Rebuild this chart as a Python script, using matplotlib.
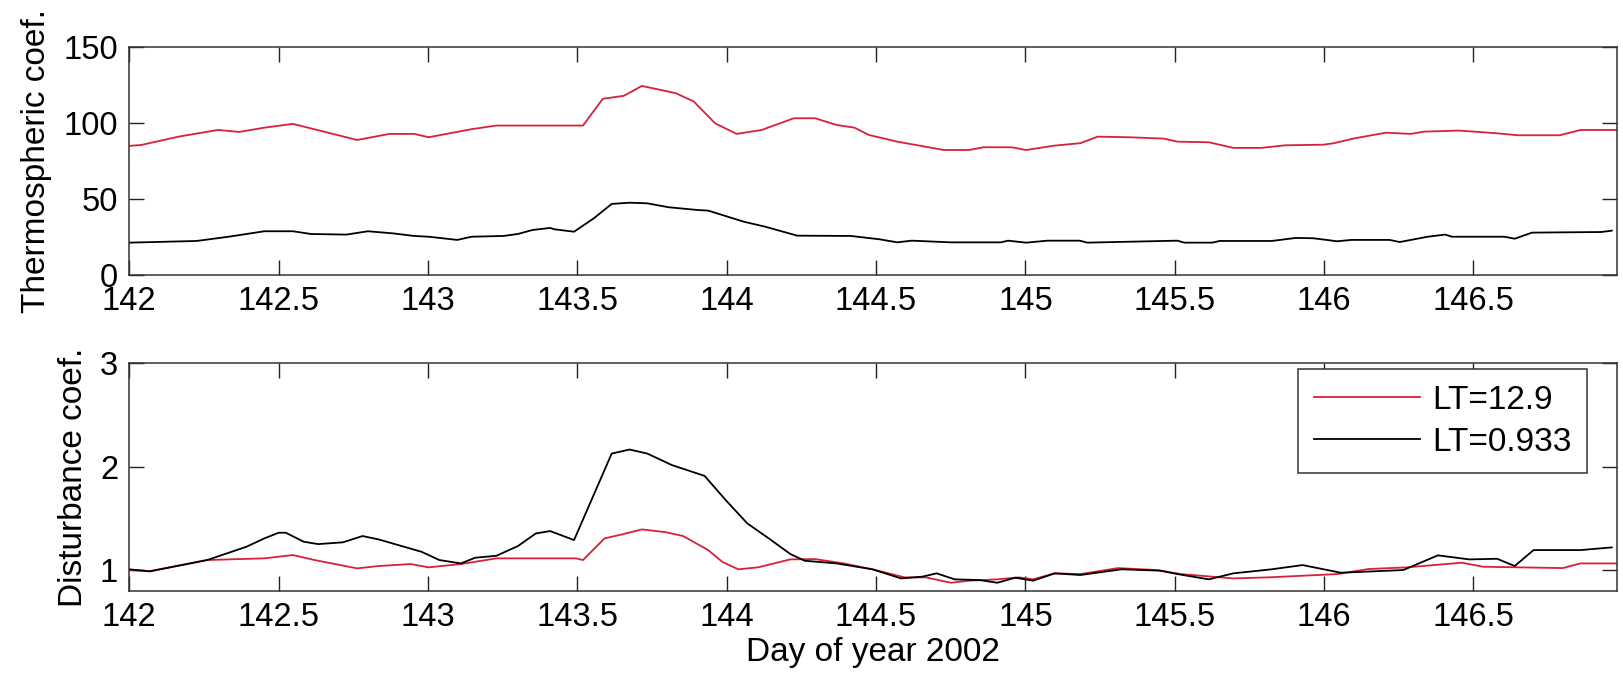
import matplotlib
matplotlib.use("Agg")
from matplotlib import pyplot as plt

plt.rcParams['font.family'] = ['Liberation Sans', 'DejaVu Sans']

# thermospheric coefficient, LT=12.9 (red)
thermo_red_day = [142.0, 142.04, 142.165, 142.297, 142.368, 142.452, 142.548, 142.763, 142.871, 142.954,
                  143.002, 143.146, 143.229, 143.519, 143.585, 143.656, 143.716, 143.830, 143.890,
                  143.961, 144.033, 144.117, 144.225, 144.296, 144.368, 144.428, 144.476, 144.571,
                  144.727, 144.811, 144.859, 144.954, 145.002, 145.098, 145.184, 145.242, 145.347,
                  145.463, 145.509, 145.614, 145.696, 145.789, 145.870, 145.998, 146.033, 146.102,
                  146.207, 146.289, 146.335, 146.451, 146.579, 146.649, 146.789, 146.858, 146.98]
thermo_red = [85.0, 85.6, 91.1, 95.5, 94.2, 97.0, 99.5, 88.9, 92.9, 92.9,
              90.7, 96.0, 98.4, 98.4, 116.0, 118.0, 124.5, 119.7, 114.2,
              99.9, 92.9, 95.5, 103.2, 103.2, 98.8, 97.0, 92.2, 87.8,
              82.3, 82.3, 84.1, 84.1, 82.3, 85.2, 86.8, 91.1, 90.7,
              89.8, 87.8, 87.4, 83.7, 83.7, 85.4, 85.8, 86.8, 90.0,
              93.7, 92.9, 94.4, 95.1, 93.3, 92.0, 92.0, 95.5, 95.5]

# thermospheric coefficient, LT=0.933 (black)
thermo_blk_day = [142.0, 142.225, 142.333, 142.452, 142.548, 142.608, 142.727, 142.799, 142.883, 142.954,
                  143.002, 143.098, 143.146, 143.253, 143.301, 143.349, 143.409, 143.423, 143.489,
                  143.555, 143.615, 143.675, 143.734, 143.806, 143.902, 143.938, 144.057, 144.129,
                  144.236, 144.416, 144.512, 144.571, 144.619, 144.751, 144.918, 144.942, 145.002,
                  145.074, 145.182, 145.207, 145.509, 145.532, 145.626, 145.650, 145.824, 145.905,
                  145.963, 146.044, 146.091, 146.219, 146.253, 146.347, 146.405, 146.428, 146.603,
                  146.638, 146.696, 146.928, 146.963]
thermo_blk = [21.3, 22.4, 25.2, 28.8, 28.8, 27.0, 26.6, 28.8, 27.4, 25.7,
              25.2, 23.1, 25.2, 25.7, 27.0, 29.6, 31.0, 30.1, 28.5,
              37.3, 46.8, 47.6, 47.2, 44.6, 42.8, 42.4, 35.1, 31.8,
              25.9, 25.7, 23.5, 21.5, 22.6, 21.5, 21.5, 22.6, 21.3,
              22.6, 22.6, 21.3, 22.6, 21.3, 21.3, 22.4, 22.4, 24.4,
              24.2, 22.2, 23.1, 23.1, 21.7, 25.2, 26.6, 25.2, 25.2,
              23.9, 27.9, 28.3, 29.2]

# disturbance coefficient, LT=12.9 (red)
dist_red_day = [142.0, 142.069, 142.261, 142.452, 142.548, 142.620, 142.763, 142.835, 142.942, 143.002,
                143.110, 143.229, 143.495, 143.519, 143.591, 143.650, 143.716, 143.794, 143.854,
                143.938, 143.985, 144.039, 144.105, 144.213, 144.296, 144.392, 144.488, 144.596,
                144.667, 144.751, 144.811, 144.906, 144.978, 145.026, 145.098, 145.184, 145.310,
                145.440, 145.521, 145.696, 145.812, 146.044, 146.149, 146.277, 146.462, 146.532,
                146.799, 146.858, 146.98]
dist_red = [1.0, 0.99, 1.097, 1.113, 1.145, 1.097, 1.016, 1.039, 1.058, 1.026,
            1.058, 1.113, 1.113, 1.097, 1.306, 1.345, 1.393, 1.367, 1.329,
            1.193, 1.080, 1.007, 1.026, 1.103, 1.106, 1.064, 1.007, 0.929,
            0.929, 0.877, 0.897, 0.910, 0.929, 0.910, 0.968, 0.961, 1.019,
            1.0, 0.961, 0.919, 0.929, 0.961, 1.010, 1.026, 1.071, 1.032,
            1.019, 1.064, 1.064]

# disturbance coefficient, LT=0.933 (black)
dist_blk_day = [142.0, 142.069, 142.261, 142.392, 142.452, 142.500, 142.524, 142.584, 142.632, 142.715,
                142.781, 142.835, 142.978, 143.038, 143.110, 143.158, 143.229, 143.301, 143.361,
                143.409, 143.489, 143.615, 143.675, 143.734, 143.818, 143.926, 143.997, 144.069,
                144.141, 144.213, 144.261, 144.368, 144.488, 144.584, 144.655, 144.703, 144.763,
                144.847, 144.906, 144.966, 145.026, 145.098, 145.184, 145.322, 145.451, 145.509,
                145.614, 145.696, 145.824, 145.928, 146.056, 146.265, 146.381, 146.486, 146.579,
                146.638, 146.701, 146.858, 146.963]
dist_blk = [1.007, 0.987, 1.097, 1.225, 1.306, 1.361, 1.361, 1.274, 1.251, 1.268,
            1.329, 1.296, 1.177, 1.097, 1.064, 1.119, 1.138, 1.232, 1.354,
            1.377, 1.290, 2.127, 2.166, 2.127, 2.014, 1.911, 1.676, 1.451,
            1.306, 1.155, 1.090, 1.064, 1.007, 0.919, 0.936, 0.968, 0.910,
            0.903, 0.877, 0.926, 0.897, 0.968, 0.952, 1.007, 0.994, 0.961,
            0.910, 0.968, 1.007, 1.048, 0.974, 1.0, 1.142, 1.103, 1.109,
            1.039, 1.193, 1.193, 1.219]

xticks = [142, 142.5, 143, 143.5, 144, 144.5, 145, 145.5, 146, 146.5]
xticklabels = ['142', '142.5', '143', '143.5', '144', '144.5', '145', '145.5', '146', '146.5']
legend_labels = ['LT=12.9', 'LT=0.933']

red = '#d8203a'
fs = 24

fig = plt.figure(figsize=(16.24, 6.8), dpi=100)
ax1 = fig.add_axes([0.0796, 0.5956, 0.916, 0.335])
ax2 = fig.add_axes([0.0796, 0.1313, 0.916, 0.3344])

# common MATLAB-like styling
def style(ax):
    ax.set_xlim(142, 146.98)
    ax.set_xticks(xticks)
    ax.set_xticklabels(xticklabels)
    ax.tick_params(direction='in', length=11, width=1, top=True, right=True,
                   labelsize=23.5, pad=8, colors='#222222', labelcolor='black')
    for s in ax.spines.values():
        s.set_color('#333333')
        s.set_linewidth(1.1)

ax1.plot(thermo_red_day, thermo_red, color=red, lw=1.3)
ax1.plot(thermo_blk_day, thermo_blk, color='black', lw=1.3)
ax1.set_ylim(0, 150)
ax1.set_yticks([0, 50, 100, 150])
style(ax1)
ax1.set_ylabel('Thermospheric coef.', fontsize=fs, labelpad=8)

ax2.plot(dist_red_day, dist_red, color=red, lw=1.3, label=legend_labels[0])
ax2.plot(dist_blk_day, dist_blk, color='black', lw=1.3, label=legend_labels[1])
ax2.set_ylim(0.8, 3)
ax2.set_yticks([1, 2, 3])
style(ax2)
ax2.set_ylabel('Disturbance coef.', fontsize=fs, labelpad=8)
ax2.set_xlabel('Day of year 2002', fontsize=fs, labelpad=3)

leg = ax2.legend(loc='upper right', bbox_to_anchor=(0.980, 0.974), borderaxespad=0,
                 fontsize=fs, fancybox=False, framealpha=1, edgecolor='#333333',
                 handlelength=3.2, handletextpad=0.35, labelspacing=0.32, borderpad=0.47)
leg.get_frame().set_linewidth(1.1)

fig.savefig('out.png', dpi=100)
